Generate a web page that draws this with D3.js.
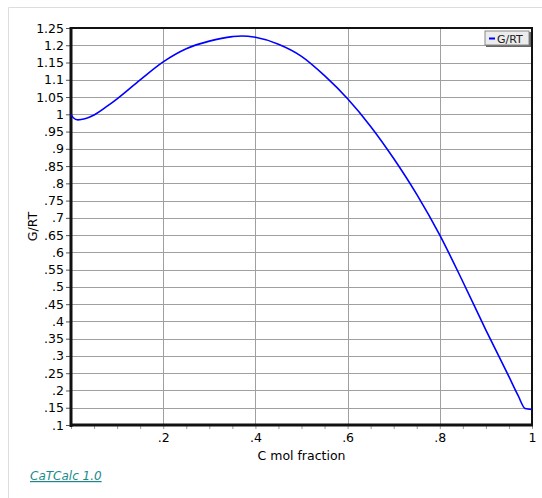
<!DOCTYPE html>
<html><head><meta charset="utf-8">
<script src="https://cdn.jsdelivr.net/npm/d3@7"></script>
<style>
body{margin:0;background:#fff;}
svg text{font-family:Tahoma,"DejaVu Sans",Verdana,sans-serif;}
</style></head>
<body>
<svg id="c" width="542" height="498"></svg>
<script>
const xVals = [0,0.005,0.015,0.03,0.05,0.08,0.1,0.15,0.2,0.25,0.3,0.35,0.37,0.4,0.45,0.5,0.55,0.6,0.65,0.7,0.75,0.8,0.85,0.9,0.95,0.97,0.985,1];
const yVals = [1.0,0.99,0.984,0.987,0.998,1.025,1.045,1.1,1.152,1.19,1.212,1.225,1.227,1.223,1.203,1.168,1.112,1.045,0.965,0.872,0.768,0.65,0.515,0.375,0.24,0.185,0.148,0.145];
const yTicks = [0.1,0.15,0.2,0.25,0.3,0.35,0.4,0.45,0.5,0.55,0.6,0.65,0.7,0.75,0.8,0.85,0.9,0.95,1,1.05,1.1,1.15,1.2,1.25];
const xTicks = [0.2,0.4,0.6,0.8,1];
const xMinor = d3.range(0,21).map(i=>i*0.05);
const seriesName = "G/RT";
const xTitle = "C mol fraction", yTitle = "G/RT";

const svg = d3.select("#c");
const L=71,R=532,T=28,B=425;
const x = d3.scaleLinear().domain([0,1]).range([L,R]);
const y = d3.scaleLinear().domain([0.1,1.25]).range([B,T]);
const fmt = v => { let s = d3.format(".2~f")(v); return s.startsWith("0.") ? s.slice(1) : s; };

// outer panel lines
svg.append("line").attr("x1",8.5).attr("x2",8.5).attr("y1",7.5).attr("y2",498).attr("stroke","#ddd");
svg.append("line").attr("x1",8.5).attr("x2",542).attr("y1",7.5).attr("y2",7.5).attr("stroke","#ddd");

// grid
svg.append("g").selectAll("line").data(yTicks).join("line")
  .attr("x1",L).attr("x2",R).attr("y1",d=>Math.round(y(d))+0.5).attr("y2",d=>Math.round(y(d))+0.5)
  .attr("stroke","#a0a0a0");
svg.append("g").selectAll("line").data(xTicks).join("line")
  .attr("y1",T).attr("y2",B).attr("x1",d=>Math.round(x(d))+0.5).attr("x2",d=>Math.round(x(d))+0.5)
  .attr("stroke","#a0a0a0");

// y axis
const ya = svg.append("g").attr("transform",`translate(${L},0)`)
  .call(d3.axisLeft(y).tickValues(yTicks).tickFormat(fmt).tickSize(5).tickPadding(2));
ya.select(".domain").remove();
ya.selectAll("line").attr("stroke","#555");
ya.selectAll("text").attr("font-size",12.5).attr("fill","#000");

// x axis
const xa = svg.append("g").attr("transform",`translate(0,${B})`)
  .call(d3.axisBottom(x).tickValues(xMinor).tickFormat(d=> xTicks.some(t=>Math.abs(t-d)<1e-9)? fmt(d):"").tickSize(4).tickPadding(4));
xa.select(".domain").remove();
xa.selectAll("line").attr("stroke","#999");
xa.selectAll("text").attr("font-size",12.5).attr("fill","#000");

// frame
svg.append("rect").attr("x",L).attr("y",T).attr("width",R-L).attr("height",B-T)
  .attr("fill","none").attr("stroke","#111").attr("stroke-width",2);
svg.append("line").attr("x1",L).attr("x2",L).attr("y1",T-1).attr("y2",B+2).attr("stroke","#111").attr("stroke-width",3);
svg.append("line").attr("x1",L-1).attr("x2",R+1).attr("y1",B).attr("y2",B).attr("stroke","#111").attr("stroke-width",3);

// curve
const data = xVals.map((v,i)=>[v,yVals[i]]);
svg.append("path").datum(data)
  .attr("d",d3.line().x(d=>x(d[0])).y(d=>y(d[1])).curve(d3.curveMonotoneX))
  .attr("fill","none").attr("stroke","#0000ff").attr("stroke-width",1.6);

// legend
const lg = svg.append("g").attr("transform","translate(485,31)");
lg.append("rect").attr("x",1).attr("y",1).attr("width",45).attr("height",15).attr("fill","#666");
lg.append("rect").attr("x",0).attr("y",0).attr("width",44).attr("height",14).attr("fill","#ececec").attr("stroke","#888").attr("stroke-width",1);
lg.append("line").attr("x1",4).attr("x2",10).attr("y1",7.5).attr("y2",7.5).attr("stroke","#0000ff").attr("stroke-width",2);
lg.append("text").attr("x",12).attr("y",11.5).attr("font-size",11).attr("fill","#222").text(seriesName);

// titles
svg.append("text").attr("x",(L+R)/2).attr("y",460).attr("text-anchor","middle").attr("font-size",12.5).text(xTitle);
svg.append("text").attr("transform",`translate(37,${(T+B)/2}) rotate(-90)`).attr("text-anchor","middle").attr("font-size",12.5).text(yTitle);

// footer link
svg.append("text").attr("x",30).attr("y",480).attr("font-size",12).attr("font-style","italic")
  .attr("fill","#1a8a8a").attr("text-decoration","underline")
  .style("font-family","'Comic Sans MS','DejaVu Sans',sans-serif").text("CaTCalc 1.0");
</script>
</body></html>
